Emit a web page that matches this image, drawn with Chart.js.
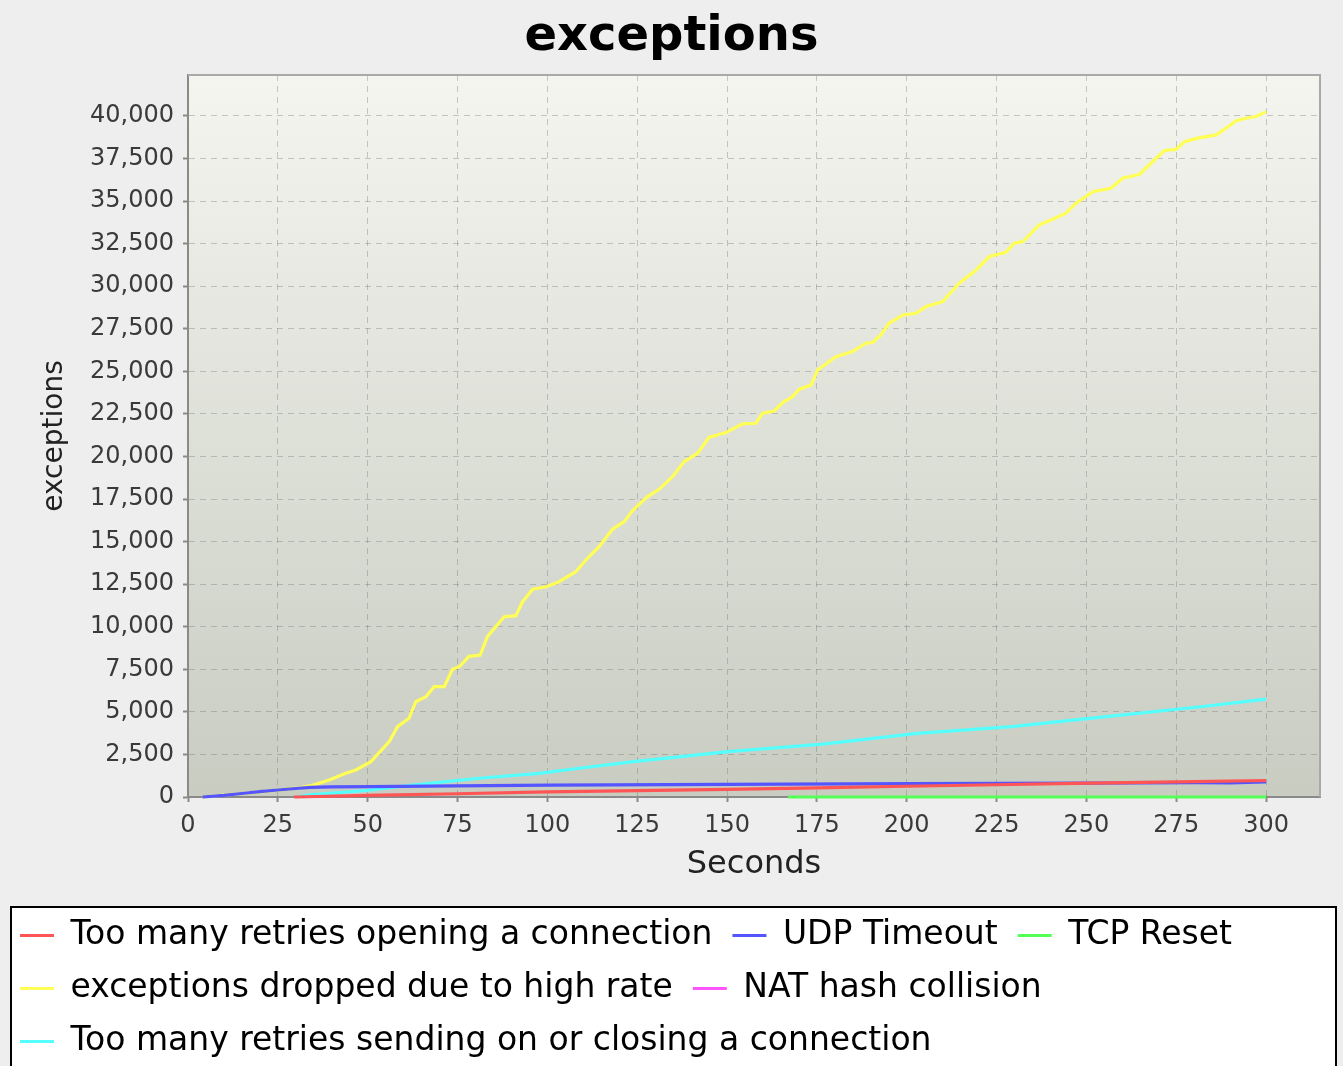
<!DOCTYPE html>
<html>
<head>
<meta charset="utf-8">
<title>exceptions</title>
<script src="https://cdn.jsdelivr.net/npm/chart.js@4.4.1/dist/chart.umd.min.js"></script>
<style>
  html, body { margin: 0; padding: 0; background: #eeeeee; }
  canvas { display: block; }
</style>
</head>
<body>
<canvas id="exceptionsChart" width="1343" height="1066"></canvas>
<script>
// Series names (legend order)
const seriesNames = [
  "Too many retries opening a connection",
  "UDP Timeout",
  "TCP Reset",
  "exceptions dropped due to high rate",
  "NAT hash collision",
  "Too many retries sending on or closing a connection"
];
const seriesColors = ["#ff5555", "#5555ff", "#55ff55", "#ffff55", "#ff55ff", "#55ffff"];

// Values (seconds / count)
const openSec = [29.5, 50, 75, 100, 125, 150, 175, 200, 225, 247, 275, 300];
const openVals = [0, 90, 190, 300, 380, 450, 540, 630, 720, 800, 890, 970];

const udpSec = [4, 10, 15.6, 20, 25, 30, 34, 40, 51, 75, 101, 150, 201, 250, 280, 290, 300];
const udpVals = [0, 100, 220, 320, 410, 500, 570, 600, 610, 650, 700, 740, 790, 820, 840, 830, 880];

const tcpSec = [167, 200, 250, 300];
const tcpVals = [0, 0, 0, 0];

const droppedSec = [4, 10, 20, 27, 31, 34, 39.3, 43.9, 46.7, 50.9, 56, 58.3, 61.5, 63.4, 66.2, 68.5,
  71.3, 73.6, 75.5, 78.2, 81.3, 83.3, 88, 91.2, 93.1, 95.9, 99.6, 102.8, 107.9, 110.7, 114.4, 118.1,
  121.4, 123.7, 127.9, 131.1, 134.8, 138.1, 141.8, 145, 149.7, 154.3, 158, 159.9, 163.1, 165.5, 168.2,
  170.1, 173.4, 175.2, 180.3, 184.9, 188.6, 190.5, 192.8, 195.1, 198.9, 202.6, 205.4, 210, 214.6,
  219.3, 223, 227.6, 229.9, 232.3, 236.9, 240.6, 244.3, 247.1, 251.8, 256.8, 260.1, 264.8, 268.5,
  271.7, 275, 277.3, 280.9, 286.1, 288.8, 291.7, 294.4, 297.2, 300];
const droppedVals = [0, 110, 300, 450, 540, 650, 1000, 1390, 1590, 2075, 3250, 4130, 4620, 5600, 5890, 6480,
  6480, 7500, 7650, 8260, 8340, 9415, 10590, 10650, 11470, 12200, 12350, 12590, 13230, 13920, 14700, 15720,
  16170, 16820, 17640, 18070, 18810, 19700, 20190, 21130, 21400, 21910, 21950, 22540, 22670, 23160, 23510,
  23950, 24200, 25080, 25860, 26160, 26650, 26690, 27140, 27820, 28310, 28410, 28800, 29090, 30170,
  30950, 31740, 31990, 32520, 32620, 33600, 33930, 34280, 34870, 35550, 35750, 36340, 36570, 37320,
  37960, 38040, 38490, 38690, 38880, 39270, 39720, 39860, 39960, 40250];

const natSec = [];
const natVals = [];

const sendSec = [30, 33.7, 49.5, 62.4, 81, 97.7, 108.8, 124, 150.3, 176.6, 202.9, 229.2, 255.5, 281.8, 300];
const sendVals = [0, 120, 380, 700, 1100, 1390, 1690, 2075, 2660, 3110, 3740, 4130, 4720, 5300, 5750];

// Axis ticks
const xTicks = [0, 25, 50, 75, 100, 125, 150, 175, 200, 225, 250, 275, 300];
const yTicks = [0, 2500, 5000, 7500, 10000, 12500, 15000, 17500, 20000, 22500, 25000,
  27500, 30000, 32500, 35000, 37500, 40000];

const seriesSec = [openSec, udpSec, tcpSec, droppedSec, natSec, sendSec];
const seriesVals = [openVals, udpVals, tcpVals, droppedVals, natVals, sendVals];

const FONT = "'DejaVu Sans', 'Noto Sans', sans-serif";

const datasets = seriesNames.map((name, i) => ({
  label: name,
  data: seriesSec[i].map((s, k) => ({ x: s, y: seriesVals[i][k] })),
  borderColor: seriesColors[i],
  backgroundColor: seriesColors[i],
  borderWidth: 3.2,
  pointRadius: 0,
  tension: 0,
  fill: false,
  clip: 4
}));

// plot gradient + white legend frame
const backdrop = {
  id: "backdrop",
  beforeDraw(chart) {
    const { ctx, chartArea: a, legend } = chart;
    ctx.save();
    const g = ctx.createLinearGradient(0, a.top, 0, a.bottom);
    g.addColorStop(0, "#f4f5ef");
    g.addColorStop(1, "#c8ccc1");
    ctx.fillStyle = g;
    ctx.fillRect(a.left, a.top, a.right - a.left, a.bottom - a.top);

    const top = legend.top + 8;
    ctx.fillStyle = "#ffffff";
    ctx.fillRect(11, top, chart.width - 18, chart.height - top + 10);
    ctx.strokeStyle = "#000000";
    ctx.lineWidth = 2;
    ctx.strokeRect(11, top, chart.width - 18, chart.height - top + 10);
    ctx.restore();
  },
  afterDatasetsDraw(chart) {
    const { ctx, chartArea: a } = chart;
    ctx.save();
    ctx.strokeStyle = "#a9a9a9";
    ctx.lineWidth = 2;
    ctx.beginPath();
    ctx.moveTo(a.left, a.top);
    ctx.lineTo(a.right, a.top);
    ctx.lineTo(a.right, a.bottom);
    ctx.stroke();
    ctx.restore();
  }
};

const gridOpts = {
  color: "rgba(110,110,110,0.35)",
  lineWidth: 1,
  tickLength: 5,
  tickColor: "#8a8a8a",
  tickWidth: 2
};

new Chart(document.getElementById("exceptionsChart"), {
  type: "line",
  data: { datasets: datasets },
  plugins: [backdrop],
  options: {
    responsive: false,
    devicePixelRatio: 1,
    animation: false,
    layout: { padding: { top: 0, left: 0, right: 0, bottom: -2 } },
    plugins: {
      title: {
        display: true,
        text: "exceptions",
        color: "#000000",
        font: { family: FONT, size: 48, weight: "bold" },
        padding: { top: 9, bottom: 8.4 }
      },
      legend: {
        position: "bottom",
        align: "start",
        labels: {
          font: { family: FONT, size: 33 },
          color: "#111111",
          boxWidth: 34,
          boxHeight: 3,
          padding: 20,
          generateLabels: () => seriesNames.map((name, i) => ({
            text: name,
            fillStyle: seriesColors[i],
            strokeStyle: seriesColors[i],
            lineWidth: 0,
            hidden: false,
            datasetIndex: i
          }))
        }
      },
      tooltip: { enabled: false }
    },
    scales: {
      x: {
        type: "linear",
        min: 0,
        max: 315,
        afterFit: s => { s.height = 102; s.paddingRight = 23; },
        afterBuildTicks: s => { s.ticks = xTicks.map(v => ({ value: v })); },
        ticks: {
          padding: 9,
          color: "#3a3a3a",
          font: { family: FONT, size: 24 }
        },
        grid: gridOpts,
        border: { display: true, color: "#8a8a8a", width: 2, dash: [6, 5] },
        title: {
          display: true,
          text: "Seconds",
          color: "#222222",
          font: { family: FONT, size: 32 },
          padding: { top: 0, bottom: 15 }
        }
      },
      y: {
        min: 0,
        max: 42400,
        afterFit: s => { s.width = 188; },
        afterBuildTicks: s => { s.ticks = yTicks.map(v => ({ value: v })); },
        ticks: {
          padding: 9,
          color: "#3a3a3a",
          font: { family: FONT, size: 24 },
          callback: v => v.toLocaleString("en-US")
        },
        grid: gridOpts,
        border: { display: true, color: "#8a8a8a", width: 2, dash: [6, 5] },
        title: {
          display: true,
          text: "exceptions",
          color: "#222222",
          font: { family: FONT, size: 28 },
          padding: { top: 38, bottom: 0 }
        }
      }
    }
  }
});
</script>
</body>
</html>
